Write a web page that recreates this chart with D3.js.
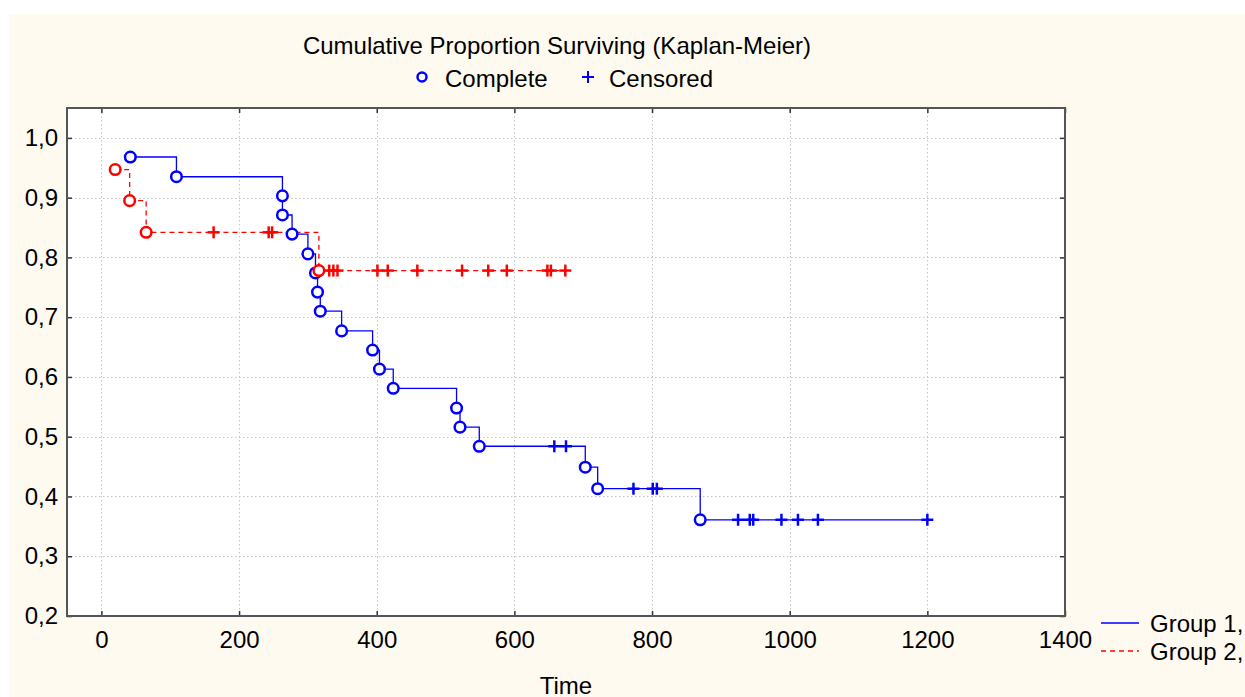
<!DOCTYPE html>
<html>
<head>
<meta charset="utf-8">
<script src="https://cdn.jsdelivr.net/npm/d3@7"></script>
<style>
  html, body { margin: 0; padding: 0; background: #ffffff; }
  svg { display: block; font-family: "Liberation Sans", Arial, sans-serif; }
</style>
</head>
<body>
<svg id="chart" width="1245" height="697"></svg>
<script>
// ---- Data ----
const xTicks = [0, 200, 400, 600, 800, 1000, 1200, 1400];
const yTicks = [0.2, 0.3, 0.4, 0.5, 0.6, 0.7, 0.8, 0.9, 1.0];
const groupNames = ["Group 1,", "Group 2,"];

const g1EventTimes = [42, 109, 263, 263, 277, 300, 311, 314, 318, 349, 394, 404, 424, 516, 521, 549, 703, 721, 870];
const g1Survival   = [0.968, 0.935, 0.903, 0.871, 0.839, 0.806, 0.774, 0.742, 0.710, 0.677, 0.645, 0.613, 0.581, 0.548, 0.516, 0.484, 0.449, 0.413, 0.361];
const g1CensoredTimes = [658, 675, 773, 801, 807, 925, 942, 947, 988, 1012, 1041, 1200];

const g2EventTimes = [20, 41, 65, 316];
const g2Survival   = [0.947, 0.895, 0.842, 0.778];
const g2CensoredTimes = [163, 243, 248, 331, 337, 343, 401, 416, 459, 524, 562, 589, 648, 653, 674];

// ---- Layout ----
const svg = d3.select("#chart");
const W = 1245, H = 697;
const FS = 24;
const plot = { left: 67, top: 108, right: 1065, bottom: 616 };

svg.append("rect").attr("x", 9).attr("y", 14).attr("width", W - 9).attr("height", H - 14)
  .attr("fill", "#fffaf0");

const x = d3.scaleLinear().domain([-50, 1400]).range([plot.left, plot.right]);
const y = d3.scaleLinear().domain([0.2, 1.05]).range([plot.bottom, plot.top]);

svg.append("rect").attr("x", plot.left).attr("y", plot.top)
  .attr("width", plot.right - plot.left).attr("height", plot.bottom - plot.top)
  .attr("fill", "#ffffff");

// Grid
const grid = svg.append("g").attr("stroke", "#c4c4c4").attr("stroke-width", 1).attr("stroke-dasharray", "1.5,2.5");
grid.selectAll("line.vx").data(xTicks.filter(t => t > -50 && t < 1400)).join("line")
  .attr("x1", d => Math.round(x(d)) + 0.5).attr("x2", d => Math.round(x(d)) + 0.5)
  .attr("y1", plot.top).attr("y2", plot.bottom);
grid.selectAll("line.hy").data(yTicks.filter(t => t > 0.2)).join("line")
  .attr("y1", d => Math.round(y(d)) + 0.5).attr("y2", d => Math.round(y(d)) + 0.5)
  .attr("x1", plot.left).attr("x2", plot.right);

// Axes
const comma = d3.formatLocale({ decimal: ",", thousands: ".", grouping: [3], currency: ["", ""] }).format(".1f");

function styleAxis(g) {
  g.select(".domain").remove();
  g.selectAll(".tick line").attr("stroke", "#333").attr("stroke-width", 1.5);
  g.selectAll("text").attr("fill", "#000").attr("font-size", FS)
    .attr("font-family", "'Liberation Sans', Arial, sans-serif");
}

svg.append("g").attr("transform", `translate(${plot.left},0)`)
  .call(d3.axisLeft(y).tickValues(yTicks).tickSize(-5).tickPadding(9).tickFormat(comma))
  .call(styleAxis);
svg.append("g").attr("transform", `translate(${plot.right},0)`)
  .call(d3.axisRight(y).tickValues(yTicks).tickSize(-5).tickFormat(""))
  .call(styleAxis);
svg.append("g").attr("transform", `translate(0,${plot.bottom})`)
  .call(d3.axisBottom(x).tickValues(xTicks).tickSize(-5).tickPadding(15).tickFormat(d => String(d)))
  .call(styleAxis);
svg.append("g").attr("transform", `translate(0,${plot.top})`)
  .call(d3.axisTop(x).tickValues(xTicks).tickSize(-5).tickFormat(""))
  .call(styleAxis);

// Frame
svg.append("rect").attr("x", plot.left).attr("y", plot.top)
  .attr("width", plot.right - plot.left).attr("height", plot.bottom - plot.top)
  .attr("fill", "none").attr("stroke", "#555").attr("stroke-width", 2);

// ---- KM curves ----
function stepPoints(times, surv, cens) {
  const pts = [];
  for (let i = 0; i < times.length; i++) {
    if (i > 0) pts.push([times[i], surv[i - 1]]);
    pts.push([times[i], surv[i]]);
  }
  const end = Math.max(d3.max(times), d3.max(cens));
  pts.push([end, surv[surv.length - 1]]);
  return pts;
}
function survAt(times, surv, t) {
  let s = 1;
  for (let i = 0; i < times.length; i++) if (times[i] <= t) s = surv[i];
  return s;
}

const groups = [
  { times: g1EventTimes, surv: g1Survival, cens: g1CensoredTimes, color: "#0000ff", dash: null },
  { times: g2EventTimes, surv: g2Survival, cens: g2CensoredTimes, color: "#ff0000", dash: "5,4" }
];

const line = d3.line().x(d => x(d[0])).y(d => y(d[1]));

groups.forEach(g => {
  svg.append("path").datum(stepPoints(g.times, g.surv, g.cens))
    .attr("d", line).attr("fill", "none").attr("stroke", g.color)
    .attr("stroke-width", 1.3).attr("stroke-dasharray", g.dash);
});

groups.forEach(g => {
  const cg = svg.append("g").attr("stroke", g.color).attr("stroke-width", 2.5);
  g.cens.forEach(t => {
    const cx = x(t), cy = y(survAt(g.times, g.surv, t));
    cg.append("line").attr("x1", cx - 6).attr("x2", cx + 6).attr("y1", cy).attr("y2", cy);
    cg.append("line").attr("x1", cx).attr("x2", cx).attr("y1", cy - 6).attr("y2", cy + 6);
  });
  svg.append("g").selectAll("circle").data(g.times.map((t, i) => [t, g.surv[i]])).join("circle")
    .attr("cx", d => x(d[0])).attr("cy", d => y(d[1])).attr("r", 5.3)
    .attr("fill", "#ffffff").attr("stroke", g.color).attr("stroke-width", 2.5);
});

// ---- Titles & legends ----
svg.append("text").attr("x", 557).attr("y", 53.5).attr("text-anchor", "middle")
  .attr("font-size", FS).text("Cumulative Proportion Surviving (Kaplan-Meier)");

svg.append("circle").attr("cx", 422).attr("cy", 77).attr("r", 4.5)
  .attr("fill", "#ffffff").attr("stroke", "#0000ff").attr("stroke-width", 2.5);
svg.append("text").attr("x", 445).attr("y", 86.5).attr("font-size", FS).text("Complete");
const lg = svg.append("g").attr("stroke", "#0000ff").attr("stroke-width", 2);
lg.append("line").attr("x1", 582).attr("x2", 594).attr("y1", 77).attr("y2", 77);
lg.append("line").attr("x1", 588).attr("x2", 588).attr("y1", 71).attr("y2", 83);
svg.append("text").attr("x", 609).attr("y", 86.5).attr("font-size", FS).text("Censored");

svg.append("text").attr("x", 566).attr("y", 693.5).attr("text-anchor", "middle")
  .attr("font-size", FS).text("Time");

groups.forEach((g, i) => {
  const ly = 623 + i * 28;
  svg.append("line").attr("x1", 1101).attr("x2", 1139).attr("y1", ly).attr("y2", ly)
    .attr("stroke", g.color).attr("stroke-width", 1.3).attr("stroke-dasharray", g.dash);
  svg.append("text").attr("x", 1150).attr("y", ly + 8.5).attr("font-size", FS).text(groupNames[i]);
});
</script>
</body>
</html>
